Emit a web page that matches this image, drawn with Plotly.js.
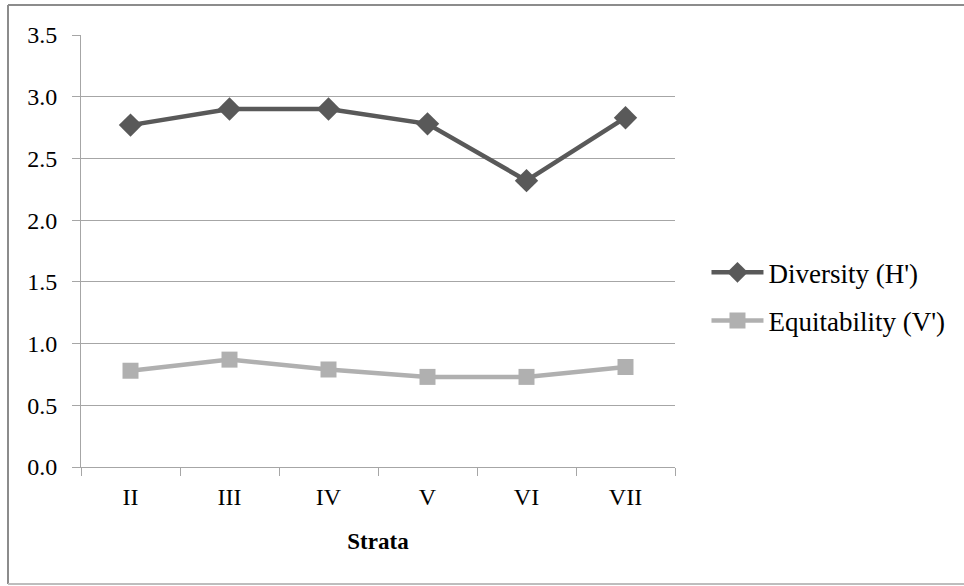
<!DOCTYPE html>
<html>
<head>
<meta charset="utf-8">
<script src="https://cdn.plot.ly/plotly-3.0.1.min.js"></script>
<style>
html,body{margin:0;padding:0;background:#fff;}
#chart{width:964px;height:586px;}
</style>
</head>
<body>
<div id="chart"></div>
<script>
var strata = ["II", "III", "IV", "V", "VI", "VII"];
var diversity = [2.77, 2.90, 2.90, 2.78, 2.32, 2.83];
var equitability = [0.78, 0.87, 0.79, 0.73, 0.73, 0.81];
var yTickVals = [0, 0.5, 1.0, 1.5, 2.0, 2.5, 3.0, 3.5];
var yTickText = ["0.0", "0.5", "1.0", "1.5", "2.0", "2.5", "3.0", "3.5"];

var font = "'Liberation Serif', 'DejaVu Serif', serif";
var fs = 24;

var traces = [
  {
    x: strata, y: diversity, name: "Diversity (H')", type: "scatter", mode: "lines+markers",
    legendgroup: "a",
    line: {color: "#595959", width: 4.5},
    marker: {symbol: "diamond", size: 18, color: "#595959"}
  },
  {
    x: strata, y: equitability, name: "Equitability (V')", type: "scatter", mode: "lines+markers",
    legendgroup: "b",
    line: {color: "#b0b0b0", width: 4.5},
    marker: {symbol: "square", size: 16, color: "#b0b0b0"}
  }
];

var layout = {
  width: 964, height: 586,
  margin: {l: 81, r: 289, t: 35, b: 119},
  paper_bgcolor: "#ffffff", plot_bgcolor: "#ffffff",
  font: {family: font, size: fs, color: "#000"},
  showlegend: true,
  legend: {
    x: 1.053, y: 0.394, xanchor: "left", yanchor: "middle",
    font: {family: font, size: 27, color: "#000"},
    traceorder: "grouped", tracegroupgap: 10,
    itemwidth: 52, bgcolor: "rgba(0,0,0,0)"
  },
  xaxis: {
    type: "category", range: [-0.5, 5.5],
    showgrid: false, zeroline: false,
    showline: true, linecolor: "#a6a6a6", linewidth: 1,
    ticks: "outside", tickson: "boundaries", ticklen: 8, tickcolor: "#a6a6a6",
    ticklabelstandoff: 8,
    tickfont: {family: font, size: fs, color: "#000"},
    title: {text: "<b>Strata</b>", font: {family: font, size: 23, color: "#000"}, standoff: 24}
  },
  yaxis: {
    range: [0, 3.5], tickvals: yTickVals, ticktext: yTickText,
    showgrid: true, gridcolor: "#a6a6a6", gridwidth: 1,
    zeroline: false, showline: true, linecolor: "#a6a6a6", linewidth: 1,
    ticks: "outside", ticklen: 8, tickcolor: "#a6a6a6",
    ticklabelstandoff: 10,
    tickfont: {family: font, size: fs, color: "#000"}
  },
  shapes: [
    {type: "line", xref: "paper", yref: "paper", x0: -0.1229, x1: 1.5, y0: 1.0694, y1: 1.0694, line: {color: "#8c8c8c", width: 2}},
    {type: "line", xref: "paper", yref: "paper", x0: -0.1229, x1: -0.1229, y0: 1.0694, y1: -0.2708, line: {color: "#8c8c8c", width: 2}},
    {type: "line", xref: "paper", yref: "paper", x0: -0.1229, x1: 1.5, y0: -0.2708, y1: -0.2708, line: {color: "#bdbdbd", width: 2}}
  ]
};

Plotly.newPlot("chart", traces, layout, {displayModeBar: false, staticPlot: true});
</script>
</body>
</html>
